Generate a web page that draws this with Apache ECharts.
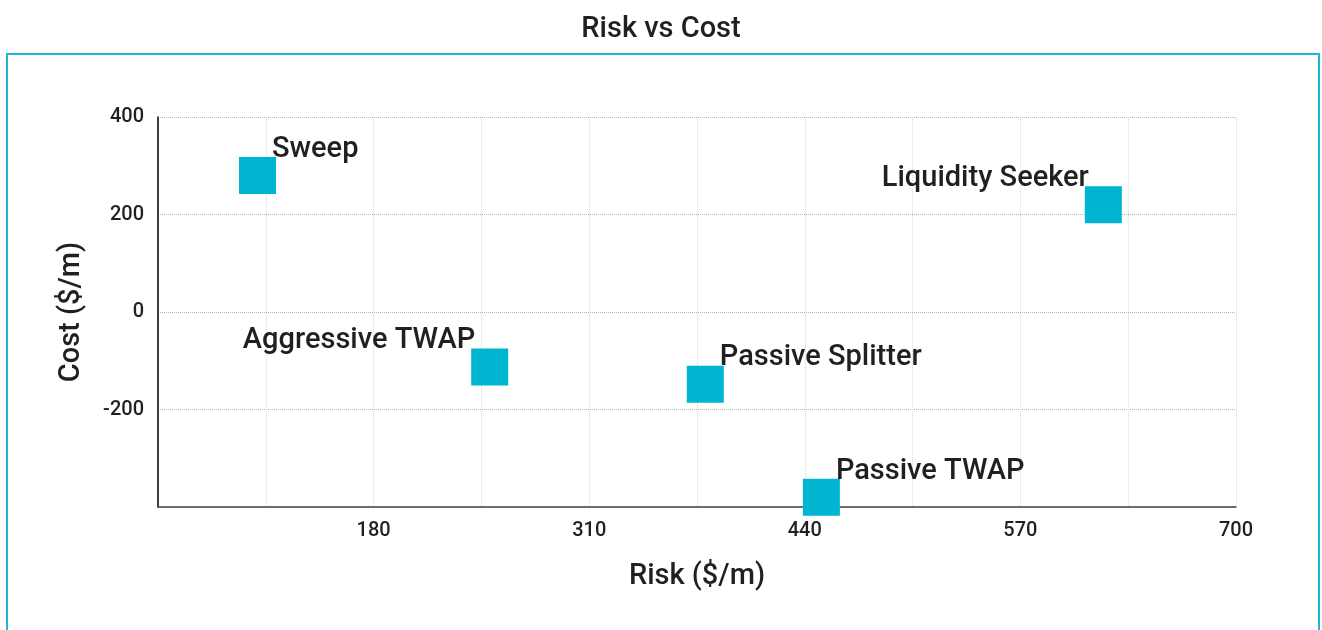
<!DOCTYPE html>
<html>
<head>
<meta charset="utf-8">
<title>Risk vs Cost</title>
<script src="https://cdn.jsdelivr.net/npm/echarts@6/dist/echarts.min.js"></script>
<style>
  html, body { margin: 0; padding: 0; background: #fff; }
  #chart { width: 1322px; height: 630px; }
</style>
</head>
<body>
<div id="chart"></div>
<script>
// Execution strategies: risk and cost, both in $ per million
const strategies = ['Sweep', 'Aggressive TWAP', 'Passive Splitter', 'Passive TWAP', 'Liquidity Seeker'];
const risk = [110, 250, 380, 450, 620];
const cost = [280, -113, -148, -380, 220];

// Axis ticks
const riskGridTicks = [50, 115, 180, 245, 310, 375, 440, 505, 570, 635, 700];
const riskLabelTicks = [180, 310, 440, 570, 700];
const costMin = -400, costMax = 400, costStep = 200;

const FONT = 'Roboto';
const TEXT = '#231f20';
const MARK = '#00b5d1';

// Labels drawn to the upper-left of their marker
const leftLabelled = new Set(['Aggressive TWAP', 'Liquidity Seeker']);

const points = strategies.map((name, i) => {
  const left = leftLabelled.has(name);
  return {
    name,
    value: [risk[i], cost[i]],
    label: {
      position: left ? [4, 7] : [33, 7],
      align: left ? 'right' : 'left',
      verticalAlign: 'bottom'
    }
  };
});

const chart = echarts.init(document.getElementById('chart'), null, { renderer: 'canvas' });

chart.setOption({
  animation: false,
  backgroundColor: '#fff',
  textStyle: { fontFamily: FONT, color: TEXT },
  title: {
    text: 'Risk vs Cost',
    left: 'center',
    top: 10,
    textStyle: { fontFamily: FONT, fontSize: 29, fontWeight: 500, color: TEXT }
  },
  graphic: [{
    type: 'rect',
    shape: { x: 7, y: 54, width: 1312, height: 620 },
    style: { fill: 'none', stroke: '#1cb7d5', lineWidth: 2 },
    silent: true,
    z: -1
  }],
  grid: { left: 158, right: 86, top: 117, bottom: 123 },
  xAxis: {
    type: 'value',
    min: 50,
    max: 700,
    name: 'Risk ($/m)',
    nameLocation: 'middle',
    nameGap: 55,
    nameTextStyle: { fontFamily: FONT, fontSize: 29, fontWeight: 500, color: TEXT },
    axisLine: { show: true, onZero: false, lineStyle: { color: '#444', width: 1.5 } },
    axisTick: { show: false, customValues: riskGridTicks },
    axisLabel: {
      customValues: riskLabelTicks,
      fontFamily: FONT, fontSize: 20, fontWeight: 500, color: TEXT, margin: 14
    },
    splitLine: { show: true, lineStyle: { type: 'dotted', color: '#d6d6d6', width: 1 } }
  },
  yAxis: {
    type: 'value',
    min: costMin,
    max: costMax,
    interval: costStep,
    name: 'Cost ($/m)',
    nameLocation: 'middle',
    nameGap: 72,
    nameRotate: 90,
    nameTextStyle: { fontFamily: FONT, fontSize: 29, fontWeight: 500, color: TEXT },
    axisLine: { show: true, lineStyle: { color: '#000', width: 1.5 } },
    axisTick: { show: false },
    axisLabel: {
      showMinLabel: false,
      fontFamily: FONT, fontSize: 20, fontWeight: 500, color: TEXT, margin: 14
    },
    splitLine: { show: true, lineStyle: { type: 'dotted', color: '#b5b5b5', width: 1 } }
  },
  series: [{
    type: 'scatter',
    symbol: 'rect',
    symbolSize: 37,
    itemStyle: { color: MARK, opacity: 1 },
    label: {
      show: true,
      formatter: '{b}',
      fontFamily: FONT,
      fontSize: 29,
      fontWeight: 500,
      color: TEXT
    },
    data: points
  }]
});
</script>
</body>
</html>
